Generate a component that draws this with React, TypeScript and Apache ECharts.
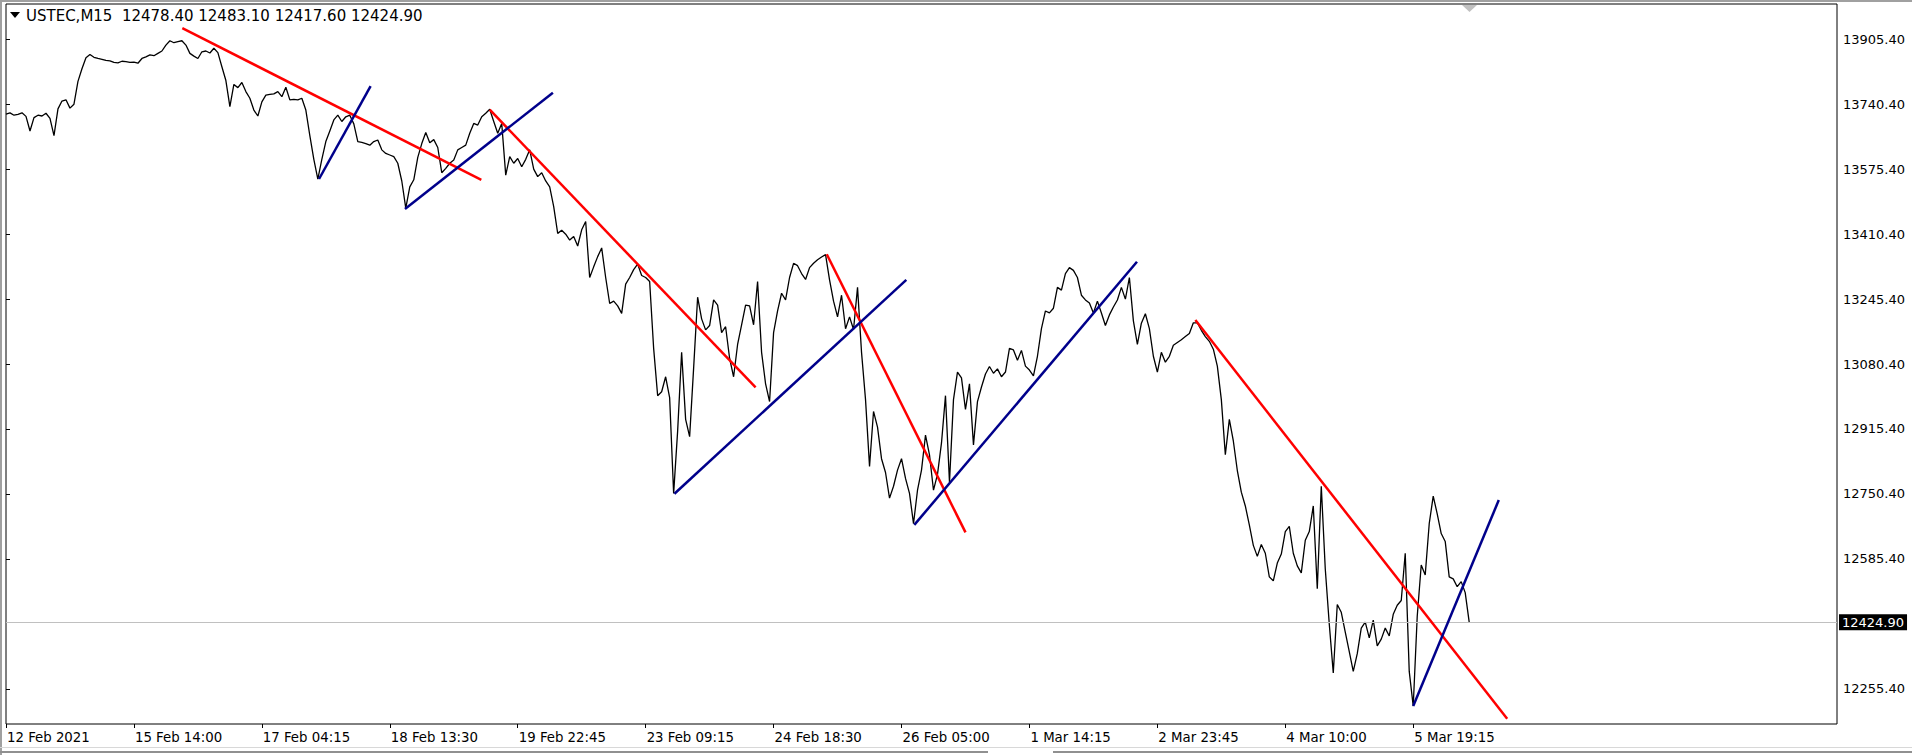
import React, { useEffect, useRef } from 'react';
import * as echarts from 'echarts';

// USTEC M15 close prices, one value per 4 px bar slot
const closes: number[] = [
  13715, 13718, 13712, 13714, 13718, 13709, 13672, 13706, 13712, 13710,
  13717, 13704, 13660, 13728, 13748, 13751, 13730, 13740, 13798, 13830,
  13858, 13866, 13859, 13856, 13854, 13851, 13850, 13846, 13845, 13849,
  13848, 13846, 13847, 13844, 13856, 13860, 13865, 13863, 13869, 13875,
  13890, 13901, 13896, 13899, 13901, 13890, 13869, 13862, 13856, 13873,
  13875, 13870, 13882, 13871, 13835, 13800, 13734, 13790, 13782, 13795,
  13772, 13755, 13725, 13710, 13746, 13763, 13765, 13766, 13772, 13759,
  13783, 13751, 13752, 13751, 13755, 13725, 13660, 13600, 13550, 13600,
  13645, 13672, 13700, 13712, 13696, 13708, 13712, 13690, 13645, 13643,
  13640, 13636, 13645, 13649, 13624, 13615, 13611, 13607, 13590, 13545,
  13476, 13530, 13548, 13605, 13640, 13668, 13642, 13650, 13630, 13566,
  13577, 13590, 13598, 13624, 13630, 13636, 13666, 13691, 13687, 13708,
  13717, 13727, 13696, 13666, 13691, 13560, 13607, 13590, 13602, 13581,
  13600, 13624, 13575, 13556, 13566, 13545, 13530, 13480, 13412, 13420,
  13410, 13395, 13404, 13380, 13421, 13442, 13300, 13327, 13353, 13375,
  13300, 13234, 13240, 13228, 13209, 13283, 13300, 13320, 13334, 13305,
  13300, 13290, 13120, 13000, 13010, 13048, 12995, 12752, 12910, 13110,
  12940, 12896, 13070, 13250, 13195, 13167, 13178, 13243, 13230, 13160,
  13175, 13095, 13048, 13130, 13180, 13230, 13228, 13180, 13290, 13110,
  13030, 12985, 13160, 13215, 13260, 13243, 13300, 13336, 13330, 13310,
  13295, 13325, 13336, 13345, 13352, 13358, 13294, 13240, 13200, 13255,
  13170, 13200, 13168, 13275, 13110, 12990, 12820, 12960, 12920, 12840,
  12805, 12740, 12770, 12811, 12840, 12790, 12752, 12675, 12760, 12811,
  12900, 12850, 12760, 12800, 12880, 13000, 12780, 12990, 13060, 13045,
  12965, 13030, 12875, 12985, 13022, 13055, 13074, 13057, 13068, 13048,
  13060, 13120, 13116, 13090, 13115, 13075, 13065, 13050, 13100, 13170,
  13215, 13210, 13222, 13275, 13268, 13310, 13325, 13318, 13300, 13255,
  13243, 13235, 13210, 13240, 13210, 13178, 13205, 13225, 13243, 13275,
  13245, 13300, 13190, 13130, 13184, 13208, 13170, 13100, 13060, 13110,
  13085, 13100, 13128, 13135, 13142, 13150, 13158, 13185, 13185, 13166,
  13150, 13138, 13118, 13075, 12990, 12850, 12940, 12885, 12810, 12755,
  12720, 12672, 12620, 12592, 12622, 12600, 12540, 12530, 12575, 12598,
  12655, 12668, 12600, 12568, 12550, 12633, 12655, 12720, 12510, 12770,
  12560, 12420, 12296, 12470, 12450, 12400, 12350, 12300, 12345, 12410,
  12425, 12385, 12430, 12365, 12382, 12410, 12390, 12445, 12468, 12480,
  12600, 12300, 12212, 12440, 12570, 12545, 12675, 12745, 12700, 12650,
  12630, 12540, 12535, 12515, 12528, 12500, 12424.9,
];

const lastPrice = 12424.9;
const titleText = 'USTEC,M15  12478.40 12483.10 12417.60 12424.90';

const dateLabels = [
  '12 Feb 2021', '15 Feb 14:00', '17 Feb 04:15', '18 Feb 13:30',
  '19 Feb 22:45', '23 Feb 09:15', '24 Feb 18:30', '26 Feb 05:00',
  '1 Mar 14:15', '2 Mar 23:45', '4 Mar 10:00', '5 Mar 19:15',
];
const barsPerLabel = 32;
const lastSlot = 458;

const priceTicks = [
  12255.4, 12585.4, 12750.4, 12915.4, 13080.4, 13245.4,
  13410.4, 13575.4, 13740.4, 13905.4,
];

// trend lines: [barIndex, price] pairs
const redLines: number[][][] = [
  [[44.1, 13933], [118.9, 13548]],
  [[121, 13726], [187.5, 13021]],
  [[205.3, 13359], [240, 12653]],
  [[297.5, 13192], [375.5, 12180]],
];
const blueLines: number[][][] = [
  [[78.3, 13550], [91.2, 13786]],
  [[99.8, 13474], [136.8, 13769]],
  [[167.2, 12751], [225.2, 13294]],
  [[227.2, 12672], [282.9, 13340]],
  [[352, 12212], [373.4, 12735]],
];

const FONT = "'DejaVu Sans', Tahoma, sans-serif";
const NARROW = "'Liberation Sans Narrow', 'DejaVu Sans Condensed', sans-serif";

const App: React.FC = () => {
  const chartRef = useRef<HTMLDivElement>(null);

  useEffect(() => {
    document.body.style.margin = '0';
    if (!chartRef.current) return;
    const chart = echarts.init(chartRef.current, undefined, { renderer: 'svg' });

    const trend = (pts: number[][], color: string) => ({
      type: 'line',
      data: pts,
      showSymbol: false,
      silent: true,
      lineStyle: { color, width: 2.5 },
      z: 5,
    });

    const option = {
      animation: false,
      backgroundColor: '#ffffff',
      title: {
        text: titleText,
        left: 26,
        top: 8,
        padding: 0,
        textStyle: { fontFamily: FONT, fontSize: 15, fontWeight: 'normal', color: '#000' },
      },
      grid: {
        show: true,
        left: 6,
        top: 4,
        right: 75,
        bottom: 31,
        borderColor: '#000',
        borderWidth: 1,
        backgroundColor: '#fff',
      },
      xAxis: {
        type: 'value',
        min: 0,
        max: lastSlot,
        splitLine: { show: false },
        axisLine: { show: false },
        axisTick: {
          show: true,
          customValues: dateLabels.map((_, k) => k * barsPerLabel),
          length: 4,
          lineStyle: { color: '#000' },
        },
        axisLabel: {
          customValues: dateLabels.map((_, k) => k * barsPerLabel),
          formatter: (v: number) => dateLabels[Math.round(v / barsPerLabel)] ?? '',
          align: 'left',
          margin: 5,
          padding: [0, 0, 0, 1],
          color: '#000',
          fontFamily: NARROW,
          fontSize: 14.8,
        },
      },
      yAxis: {
        type: 'value',
        position: 'right',
        min: 12166.5,
        max: 13994.3,
        scale: true,
        splitLine: { show: false },
        axisLine: { show: false },
        axisTick: {
          show: true,
          customValues: priceTicks,
          length: 4,
          lineStyle: { color: '#000' },
        },
        axisLabel: {
          customValues: priceTicks,
          formatter: (v: number) => v.toFixed(2),
          margin: 6,
          color: '#000',
          fontFamily: FONT,
          fontSize: 13,
        },
      },
      series: [
        {
          type: 'line',
          data: closes.map((v, i) => [i, v]),
          showSymbol: false,
          silent: true,
          lineStyle: { color: '#000', width: 1.3 },
          z: 3,
          markLine: {
            silent: true,
            symbol: ['none', 'none'],
            lineStyle: { color: '#C0C0C0', width: 1, type: 'solid' },
            label: {
              show: true,
              position: 'end',
              distance: 2,
              formatter: lastPrice.toFixed(2),
              color: '#fff',
              backgroundColor: '#000',
              padding: [2, 3, 1, 3],
              fontFamily: FONT,
              fontSize: 13,
            },
            data: [{ yAxis: lastPrice }],
          },
        },
        ...redLines.map((l) => trend(l, '#FF0000')),
        ...blueLines.map((l) => trend(l, '#00008B')),
      ],
      graphic: [
        { type: 'rect', shape: { x: 0, y: 0, width: 1912, height: 2 }, style: { fill: '#A0A0A0' }, silent: true },
        { type: 'rect', shape: { x: 0, y: 0, width: 2, height: 755 }, style: { fill: '#A0A0A0' }, silent: true },
        { type: 'rect', shape: { x: 0, y: 747, width: 1912, height: 1 }, style: { fill: '#D8D8D8' }, silent: true },
        { type: 'rect', shape: { x: 0, y: 751, width: 988, height: 2 }, style: { fill: '#909090' }, silent: true },
        { type: 'rect', shape: { x: 1053, y: 751, width: 859, height: 2 }, style: { fill: '#909090' }, silent: true },
        {
          type: 'polygon',
          shape: { points: [[10, 12], [20, 12], [15, 18]] },
          style: { fill: '#000' },
          silent: true,
        },
        {
          type: 'polygon',
          shape: { points: [[1462, 5], [1477, 5], [1469.5, 12]] },
          style: { fill: '#C0C0C0' },
          silent: true,
        },
      ],
    };

    chart.setOption(option as any);
    return () => {
      chart.dispose();
    };
  }, []);

  return <div ref={chartRef} style={{ width: '1912px', height: '755px' }} />;
};

export default App;
